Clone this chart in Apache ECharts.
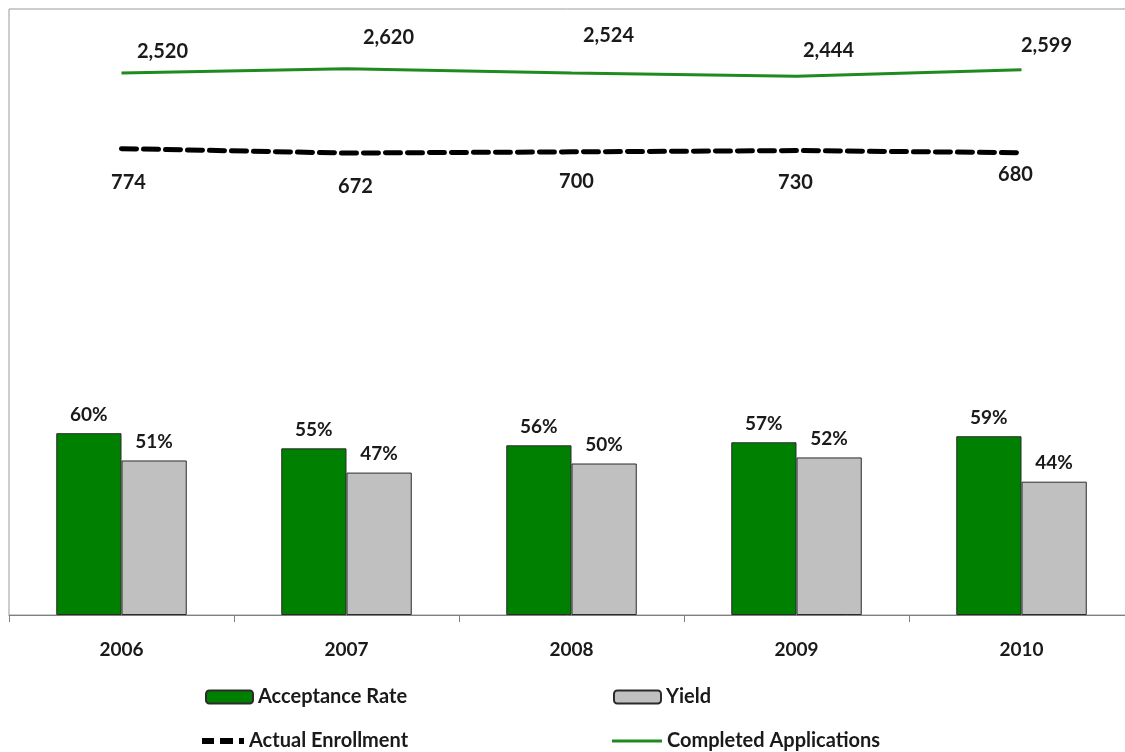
<!DOCTYPE html>
<html>
<head>
<meta charset="utf-8">
<script src="https://cdn.jsdelivr.net/npm/echarts@6/dist/echarts.min.js"></script>
<style>
  html, body { margin: 0; padding: 0; background: #ffffff; }
  #chart { width: 1125px; height: 752px; }
</style>
</head>
<body>
<div id="chart"></div>
<script>
// ---- data ----
const years = ['2006', '2007', '2008', '2009', '2010'];
const acceptanceRate = [60, 55, 56, 57, 59];          // percent
const yieldRate = [51, 47, 50, 52, 44];               // percent
const actualEnrollment = [774, 672, 700, 730, 680];
const completedApplications = [2520, 2620, 2524, 2444, 2599];

// ---- label placement (styling, not data) ----
const completedLabelOffsets = [[41, -22], [42, -31], [37, -37], [32, -26], [25, -24]];
const enrollLabelOffsets = [[7, 34], [9, 33], [5, 30], [-1, 32], [-6, 22]];

const FONT = 'Lato';
const TXT = '#1a1a1a';
const GREEN_BAR = '#008000';
const GRAY_BAR = '#c0c0c0';
const GREEN_LINE = '#1f8a1f';

function fmtThousands(v) {
  return v.toLocaleString('en-US');
}

const chart = echarts.init(document.getElementById('chart'), null, { renderer: 'canvas' });

const legendText = { fontFamily: FONT, fontSize: 20, fontWeight: 'bold', color: TXT };
function mkLegend(item, left, top, w, h) {
  return {
    data: [item], left: left, top: top, padding: 0,
    itemWidth: w, itemHeight: h, itemGap: 6,
    textStyle: legendText, selectedMode: false
  };
}

const option = {
  backgroundColor: '#ffffff',
  animation: false,
  grid: {
    left: 9, top: 9, width: 1125, height: 606,
    outerBoundsMode: 'none',
    show: true, borderColor: '#9a9a9a', borderWidth: 1,
    containLabel: false
  },
  legend: [
    mkLegend({ name: 'Acceptance Rate' }, 205, 687, 47, 13),
    mkLegend({ name: 'Yield' }, 613, 687, 47, 13),
    mkLegend({
      name: 'Actual Enrollment',
      icon: 'path://M0,0h12v6h-12z M18,0h13v6h-13z M37,0h5v6h-5z',
      itemStyle: { color: '#000000' }
    }, 202, 731, 42, 6),
    mkLegend({
      name: 'Completed Applications',
      icon: 'path://M0,0h50v3h-50z',
      itemStyle: { color: GREEN_LINE }
    }, 612, 731, 50, 3)
  ],
  xAxis: {
    type: 'category',
    data: years,
    boundaryGap: true,
    axisLine: { show: true, lineStyle: { color: '#808080', width: 1 } },
    axisTick: { show: true, interval: 0, length: 7, lineStyle: { color: '#808080' } },
    axisLabel: { margin: 25, fontFamily: FONT, fontSize: 19, fontWeight: 'bold', color: TXT },
    splitLine: { show: false }
  },
  yAxis: [
    { type: 'value', min: 0, max: 200, show: false, splitLine: { show: false } },
    { type: 'value', min: -10000, max: 4000, show: false, splitLine: { show: false } }
  ],
  series: [
    {
      name: 'Acceptance Rate', type: 'bar', yAxisIndex: 0,
      data: acceptanceRate,
      barGap: '0%', barCategoryGap: '42%',
      itemStyle: { color: GREEN_BAR, borderColor: '#2b2b2b', borderWidth: 1 },
      label: {
        show: true, position: 'top', distance: 9,
        formatter: p => p.value + '%',
        fontFamily: FONT, fontSize: 19, fontWeight: 'bold', color: TXT
      }
    },
    {
      name: 'Yield', type: 'bar', yAxisIndex: 0,
      data: yieldRate,
      barGap: '0%', barCategoryGap: '42%',
      itemStyle: { color: GRAY_BAR, borderColor: '#2b2b2b', borderWidth: 1 },
      label: {
        show: true, position: 'top', distance: 9,
        formatter: p => p.value + '%',
        fontFamily: FONT, fontSize: 19, fontWeight: 'bold', color: TXT
      }
    },
    {
      name: 'Actual Enrollment', type: 'line', yAxisIndex: 1,
      data: actualEnrollment.map((v, i) => ({
        value: v,
        label: { offset: enrollLabelOffsets[i] }
      })),
      symbol: 'circle', symbolSize: 0, showSymbol: true,
      lineStyle: { color: '#000000', width: 5, type: [15, 7], cap: 'round' },
      itemStyle: { color: '#000000' },
      label: {
        show: true, position: 'inside',
        formatter: p => fmtThousands(p.value),
        fontFamily: FONT, fontSize: 20, fontWeight: 'bold', color: TXT
      },
      z: 3
    },
    {
      name: 'Completed Applications', type: 'line', yAxisIndex: 1,
      data: completedApplications.map((v, i) => ({
        value: v,
        label: { offset: completedLabelOffsets[i] }
      })),
      symbol: 'circle', symbolSize: 0, showSymbol: true,
      lineStyle: { color: GREEN_LINE, width: 3 },
      itemStyle: { color: GREEN_LINE },
      label: {
        show: true, position: 'inside',
        formatter: p => fmtThousands(p.value),
        fontFamily: FONT, fontSize: 20, fontWeight: 'bold', color: TXT
      },
      z: 3
    }
  ]
};

chart.setOption(option);
</script>
</body>
</html>
